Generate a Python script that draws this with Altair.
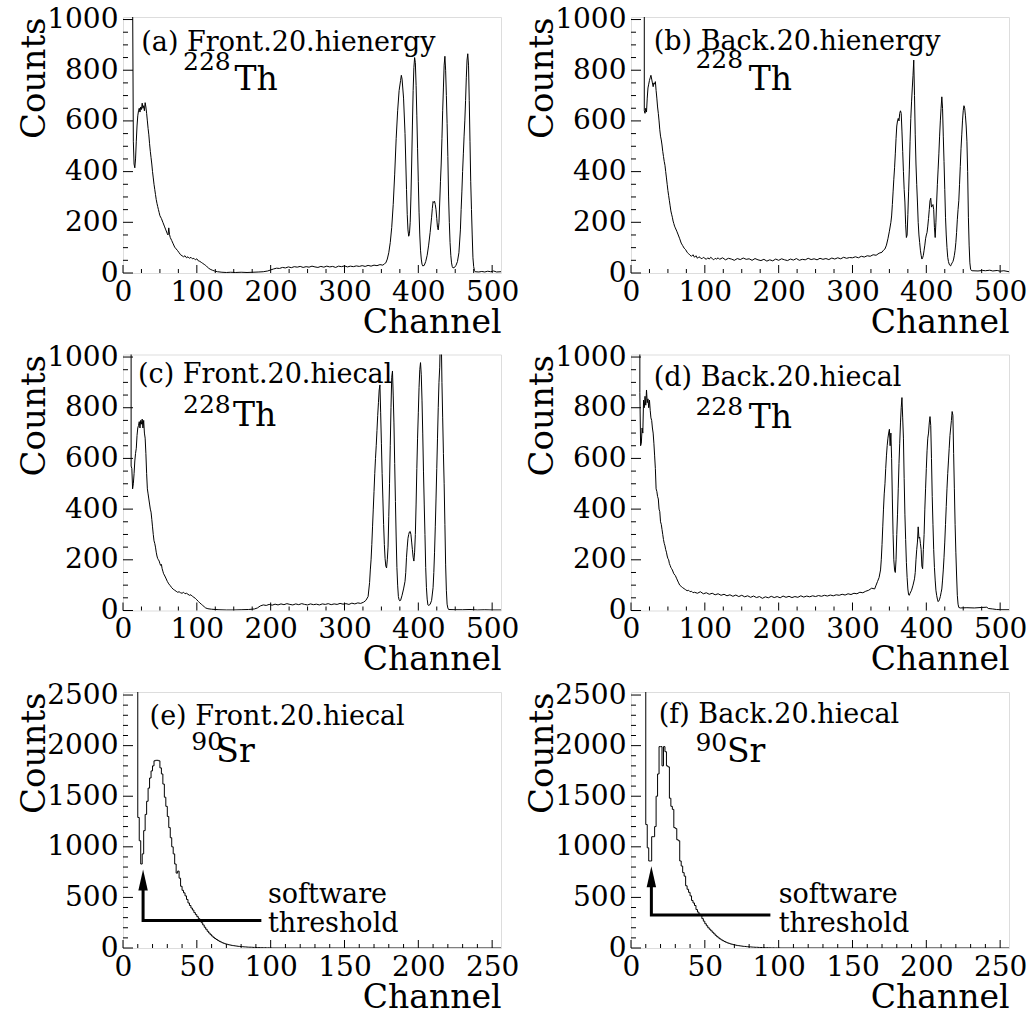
import altair as alt
import pandas as pd

FONT = "DejaVu Serif"
W, H = 378, 256

# ---------------- data (channel, counts) ----------------
a_pts = [(0,1500),(12,1500),(12,1100),(13,1100),(14,520),(15,430),(16,415),(17,450),(18,520),(19,580),(20,620),(21,640),(22,650),(23,635),(24,655),(25,645),(26,670),(27,650),(28,660),(29,640),(30,672),(31,655),(32,630),(33,600),(34,570),(35,545),(36,510),(37,480),(38,455),(39,430),(40,400),(41,375),(42,350),(43,330),(44,310),(45,290),(46,275),(47,262),(48,250),(49,238),(50,226),(52,215),(54,200),(56,185),(58,170),(60,155),(61,150),(62,178),(63,152),(64,140),(66,128),(68,115),(70,102),(72,95),(74,88),(76,80),(78,72),(80,68),(82,64),(84,68),(86,60),(88,64),(90,58),(92,62),(94,56),(96,58),(98,52),(100,56),(102,48),(104,46),(106,42),(108,38),(110,34),(112,30),(114,24),(116,19),(118,15),(121,11),(124,8),(128,5),(134,3),(140,2),(146,3),(152,2),(160,3),(168,2),(176,3),(184,4),(190,5),(196,8),(200,12),(204,16),(208,19),(212,18),(216,22),(220,20),(224,24),(228,21),(232,25),(236,23),(240,26),(244,22),(248,25),(252,23),(256,27),(260,24),(264,22),(268,26),(272,23),(276,27),(280,24),(284,26),(288,22),(292,27),(296,25),(300,28),(304,24),(308,27),(312,25),(316,28),(320,26),(324,29),(328,26),(332,30),(336,27),(340,31),(344,29),(348,33),(352,31),(354,36),
         (356,40),(358,55),(360,80),(362,120),(364,180),(366,270),(368,390),(370,530),(372,640),(374,720),(376,760),(377,780),(378,765),(380,690),(382,550),(384,330),(385,230),(386,170),(387,145),(388,155),(389,200),(390,300),(391,430),(392,580),(393,720),(394,810),(395,850),(396,830),(397,740),(398,620),(399,490),(400,360),(401,240),(402,150),(403,90),(404,55),(405,35),(406,28),(408,30),(410,45),(412,70),(414,110),(416,160),(418,220),(419,255),(420,282),(421,278),(422,283),(423,270),(424,250),(425,215),(426,180),(427,170),(428,200),(429,280),(430,360),(431,430),(432,530),(433,640),(434,730),(435,820),(436,855),(437,800),(438,700),(439,590),(440,460),(441,300),(442,200),(443,120),(444,70),(445,40),(446,25),(447,20),(449,22),(451,30),(453,45),(455,80),(457,170),(458,250),(459,320),(460,400),(461,470),(462,540),(463,600),(464,680),(465,770),(466,840),(467,865),(468,820),(469,680),(470,520),(471,360),(472,250),(473,150),(474,60),(475,25),(476,10),(477,5),(482,4),(486,6),(490,4),(494,7),(498,5),(502,8),(506,4),(512,5)]

b_pts = [(0,1500),(17,1500),(17,1100),(18,1100),(18,640),(19,630),(20,650),(21,635),(22,690),(23,730),(24,745),(25,760),(26,770),(27,780),(28,765),(29,750),(30,735),(31,750),(32,745),(33,755),(34,720),(35,690),(36,655),(37,630),(38,600),(39,565),(40,540),(41,525),(42,505),(43,480),(44,460),(45,440),(46,425),(47,400),(48,375),(49,350),(50,325),(51,305),(52,285),(53,265),(54,245),(55,232),(56,220),(57,205),(58,195),(59,185),(60,178),(62,165),(64,150),(66,135),(68,118),(70,108),(72,98),(74,92),(76,82),(78,76),(80,70),(82,66),(84,72),(86,62),(88,68),(90,58),(92,64),(94,60),(96,56),(98,62),(100,58),(102,54),(104,60),(106,55),(108,62),(110,57),(112,52),(114,58),(116,55),(118,60),(120,54),(124,60),(128,52),(132,58),(136,55),(140,50),(144,57),(148,53),(152,59),(156,54),(160,56),(164,50),(168,57),(172,52),(176,49),(180,54),(184,47),(188,52),(192,48),(196,55),(200,50),(204,56),(208,52),(212,49),(216,55),(220,51),(224,57),(228,50),(232,54),(236,52),(240,58),(244,53),(248,56),(252,52),(256,58),(260,54),(264,57),(268,53),(272,59),(276,55),(280,60),(284,56),(288,62),(292,58),(296,61),(300,60),(304,64),(308,60),(312,66),(316,63),(320,68),(324,66),(328,72),(332,70),(336,78),(340,82),(342,90),
         (344,95),(346,110),(348,135),(350,165),(352,200),(353,225),(354,270),(355,320),(356,370),(357,415),(358,470),(359,530),(360,580),(361,600),(362,610),(363,600),(364,630),(365,640),(366,630),(367,560),(368,480),(369,400),(370,330),(371,280),(372,190),(373,140),(374,150),(375,230),(376,320),(377,410),(378,520),(379,610),(380,675),(381,730),(382,780),(383,840),(384,700),(385,545),(386,430),(387,350),(388,280),(389,200),(390,150),(391,120),(392,90),(393,70),(394,55),(395,60),(396,70),(397,90),(398,110),(399,135),(400,150),(401,160),(402,185),(403,215),(404,250),(405,285),(406,295),(407,260),(408,265),(409,270),(410,250),(411,180),(412,140),(413,200),(414,280),(415,350),(416,410),(417,470),(418,540),(419,600),(420,650),(421,695),(422,650),(423,540),(424,440),(425,330),(426,220),(427,150),(428,100),(429,62),(430,45),(431,35),(432,30),(433,28),(434,35),(435,40),(436,45),(437,55),(438,70),(439,90),(440,120),(441,160),(442,210),(443,250),(444,285),(445,350),(446,420),(447,490),(448,545),(449,600),(450,640),(451,660),(452,650),(453,620),(454,580),(455,520),(456,400),(457,220),(458,110),(459,40),(460,15),(461,10),(462,9),(470,8),(476,10),(480,9),(486,11),(490,8),(496,10),(500,7),(505,9),(512,5)]

c_pts = [(0,1500),(11,1500),(11,570),(12,560),(13,480),(14,500),(15,540),(16,590),(17,620),(18,640),(19,690),(20,720),(21,730),(22,745),(23,720),(24,750),(25,735),(26,755),(27,720),(28,750),(29,700),(30,680),(31,620),(32,540),(33,480),(34,460),(35,440),(36,420),(37,400),(38,388),(39,360),(40,330),(41,300),(42,275),(43,265),(44,250),(45,230),(46,215),(47,205),(48,200),(49,195),(50,185),(51,178),(52,182),(53,165),(54,155),(55,145),(56,140),(58,128),(60,115),(62,105),(64,98),(66,90),(68,84),(70,80),(72,76),(74,72),(76,74),(78,70),(80,68),(82,72),(84,66),(86,68),(88,64),(90,60),(92,62),(94,56),(96,52),(98,48),(100,42),(102,36),(104,30),(106,25),(108,20),(110,15),(112,10),(115,7),(120,5),(130,3),(140,2),(150,2),(160,3),(170,4),(178,6),(182,10),(186,18),(190,22),(194,20),(198,24),(202,21),(206,25),(210,22),(214,26),(218,23),(222,27),(226,24),(230,22),(234,26),(238,23),(242,27),(246,24),(250,22),(254,26),(258,23),(262,25),(266,22),(270,26),(274,24),(278,27),(282,23),(286,26),(290,24),(294,28),(298,25),(302,27),(306,24),(310,29),(314,26),(318,30),(322,28),(326,33),(329,40),(332,55),
         (334,110),(335,160),(336,200),(337,260),(338,330),(339,400),(340,470),(341,540),(342,600),(343,650),(344,710),(345,770),(346,820),(347,870),(348,890),(349,780),(350,660),(351,540),(352,440),(353,340),(354,260),(355,205),(356,175),(357,168),(358,200),(359,250),(360,370),(361,500),(362,650),(363,800),(364,920),(365,945),(366,850),(367,740),(368,580),(369,430),(370,290),(371,170),(372,100),(373,55),(374,42),(375,38),(376,40),(378,60),(380,85),(382,115),(383,150),(384,210),(385,250),(386,285),(387,300),(388,310),(389,312),(390,300),(391,270),(392,240),(393,210),(394,195),(395,230),(396,300),(397,420),(398,560),(399,680),(400,780),(401,880),(402,950),(403,978),(404,930),(405,830),(406,700),(407,550),(408,420),(409,300),(410,170),(411,90),(412,45),(413,22),(414,20),(416,24),(418,40),(420,90),(421,150),(422,230),(423,330),(424,440),(425,560),(426,680),(427,800),(428,900),(429,960),(430,1100),(431,1100),(432,900),(433,760),(434,620),(435,500),(436,340),(437,180),(438,80),(439,25),(440,10),(441,4),(450,3),(460,3),(470,4),(480,2),(490,3),(500,2),(512,2)]

d_pts = [(0,1500),(12,1500),(12,860),(13,650),(14,660),(15,720),(16,700),(17,830),(18,800),(19,845),(20,810),(21,870),(22,820),(23,835),(24,800),(25,830),(26,790),(27,760),(28,750),(29,720),(30,700),(31,660),(32,610),(33,560),(34,480),(35,470),(36,450),(37,440),(38,400),(39,390),(40,350),(41,340),(42,320),(43,300),(44,280),(45,265),(46,255),(47,240),(48,230),(49,215),(50,205),(51,200),(52,185),(53,178),(54,170),(55,165),(56,160),(58,145),(60,138),(62,125),(64,112),(66,100),(68,95),(70,90),(72,86),(74,82),(76,78),(78,80),(80,74),(82,76),(84,70),(86,72),(90,68),(94,74),(98,66),(102,70),(106,64),(110,68),(114,62),(118,66),(122,60),(126,64),(130,58),(134,62),(138,56),(142,61),(146,55),(150,60),(154,54),(158,58),(162,52),(166,57),(170,51),(174,55),(178,48),(182,54),(186,50),(190,56),(194,51),(198,55),(202,50),(206,57),(210,52),(214,56),(218,51),(222,55),(226,52),(230,58),(234,53),(238,57),(242,54),(246,58),(250,55),(254,59),(258,56),(262,60),(266,57),(270,61),(274,58),(278,62),(282,60),(286,64),(290,61),(294,66),(298,63),(302,68),(306,66),(310,72),(314,70),(318,76),(322,80),(326,88),(330,85),
         (332,100),(334,115),(336,130),(338,160),(339,200),(340,260),(341,330),(342,400),(343,460),(344,500),(345,560),(346,610),(347,650),(348,680),(349,700),(350,715),(351,650),(352,700),(353,600),(354,440),(355,300),(356,200),(357,160),(358,150),(359,200),(360,300),(361,380),(362,480),(363,580),(364,660),(365,740),(366,800),(367,840),(368,760),(369,680),(370,520),(371,380),(372,280),(373,190),(374,130),(375,85),(376,62),(377,60),(378,68),(380,80),(382,100),(384,125),(385,150),(386,200),(387,240),(388,270),(389,330),(390,285),(391,290),(392,265),(393,240),(394,175),(395,165),(396,240),(397,300),(398,400),(399,480),(400,560),(401,630),(402,680),(403,700),(404,740),(405,765),(406,730),(407,600),(408,450),(409,340),(410,240),(411,170),(412,120),(413,80),(414,60),(415,45),(416,35),(417,38),(418,45),(419,55),(420,70),(421,85),(422,120),(423,160),(424,210),(425,270),(426,340),(427,410),(428,480),(429,540),(430,590),(431,640),(432,690),(433,720),(434,750),(435,785),(436,770),(437,620),(438,480),(439,340),(440,230),(441,140),(442,60),(443,25),(444,12),(446,10),(455,11),(465,10),(475,12),(482,13),(484,8),(490,6),(495,4),(500,3),(512,3)]

# 90Sr spectra: one count per channel starting at channel 0 (bins 0-9 are off scale)
e_counts = [5000]*10 + [1290,1060,830,930,1160,1320,1450,1580,1680,1750,1800,1850,1855,1855,1850,1780,1720,1620,1490,1400,1300,1190,1090,1000,930,830,740,760,690,610,570,545,515,480,445,420,395,375,350,330,310,290,272,250,228,205,185,165,148,132,118,105,94,84,75,66,59,52,46,41,37,33,30,27,24,22,20,18,16,15,14,12,11,10,9,8,8,7,6,6,5,5,4,4,3,3,3,2,2,2,1,0]
f_counts = [5000]*10 + [1220,990,860,860,1100,1100,1200,1500,1720,1990,1990,1800,1990,1940,1800,1790,1480,1400,1370,1190,1180,1070,1060,860,810,745,710,615,580,550,515,470,445,420,380,355,335,320,290,265,240,220,200,185,170,155,140,125,112,100,90,80,72,64,57,51,46,41,37,33,30,27,24,22,20,18,16,15,13,12,11,10,9,8,7,7,6,5,5,4,4,3,3,3,2,2,2,1,1,1,1,0]

panel_labels = ["(a) Front.20.hienergy", "(b) Back.20.hienergy", "(c) Front.20.hiecal",
                "(d) Back.20.hiecal", "(e) Front.20.hiecal", "(f) Back.20.hiecal"]
mass_numbers = ["228", "228", "228", "228", "90", "90"]
element_symbols = ["Th", "Th", "Th", "Th", "Sr", "Sr"]
threshold_text = ["software", "threshold"]

# arrow annotation (channel, counts) for e and f: [x_vertical, x_end, y_horizontal, head_center]
arrow_e = [13.6, 93.7, 271, 672]
arrow_f = [13.8, 94.4, 326, 705]

x_major_th = [0, 100, 200, 300, 400, 500]
x_minor_th = [v for v in range(25, 512, 25) if v % 100 != 0]
y_major_th = [0, 200, 400, 600, 800, 1000]
y_minor_th = [v for v in range(50, 1010, 50) if v % 200 != 0]
x_major_sr = [0, 50, 100, 150, 200, 250]
x_minor_sr = [v for v in range(10, 256, 10) if v % 50 != 0]
y_major_sr = [0, 500, 1000, 1500, 2000, 2500]
y_minor_sr = [v for v in range(100, 2530, 100) if v % 500 != 0]

LABEL_SIZE = 28


def make_panel(df, step, xmax, ymax, xmaj, xmin_, ymaj, ymin_, idx, pos, arrow=None, anchor=False):
    xs = alt.Scale(domain=[0, xmax], nice=False, zero=False)
    ys = alt.Scale(domain=[0, ymax], nice=False, zero=False)
    ax_x = alt.Axis(values=xmaj, title="Channel", grid=False, ticks=False, tickSize=0, domain=False,
                    labelFont=FONT, labelFontSize=LABEL_SIZE, labelColor="black", labelPadding=27,
                    labelBaseline="alphabetic", labelFlush=False, labelOverlap=False, labelAngle=0,
                    format="d", titleFont=FONT, titleFontSize=33, titleFontWeight="normal",
                    titleColor="black", titleX=W, titleY=59, titleAlign="right",
                    titleAnchor="end", titleBaseline="alphabetic")
    ax_y = alt.Axis(values=ymaj, title="Counts", grid=False, ticks=False, tickSize=0, domain=False,
                    labelFont=FONT, labelFontSize=LABEL_SIZE, labelColor="black", labelPadding=5,
                    labelBaseline="middle", labelAlign="right", labelFlush=False, labelOverlap=False,
                    format="d", titleFont=FONT, titleFontSize=34, titleFontWeight="normal",
                    titleColor="black", titleX=-79, titleY=0, titleAngle=270, titleAlign="right",
                    titleBaseline="alphabetic")
    X = lambda: alt.X("x:Q", scale=xs, axis=ax_x)
    Y = lambda: alt.Y("y:Q", scale=ys, axis=ax_y)

    layers = []
    layers.append(alt.Chart(df).mark_line(interpolate="step-after" if step else "linear",
                                          clip=True, color="black", strokeWidth=1)
                  .encode(x=X(), y=Y(), order="i:Q"))
    # inward ticks
    layers.append(alt.Chart(pd.DataFrame({"y": ymaj})).mark_rule(color="black", strokeWidth=1)
                  .encode(y=Y(), x=alt.value(0), x2=alt.value(10)))
    layers.append(alt.Chart(pd.DataFrame({"y": ymin_})).mark_rule(color="black", strokeWidth=1)
                  .encode(y=Y(), x=alt.value(0), x2=alt.value(5)))
    layers.append(alt.Chart(pd.DataFrame({"x": xmaj})).mark_rule(color="black", strokeWidth=1)
                  .encode(x=X(), y=alt.value(H), y2=alt.value(H - 8)))
    layers.append(alt.Chart(pd.DataFrame({"x": xmin_})).mark_rule(color="black", strokeWidth=1)
                  .encode(x=X(), y=alt.value(H), y2=alt.value(H - 4)))

    def txt(s, x, y, size):
        return (alt.Chart(alt.Data(values=[{"t": s}]))
                .mark_text(align="left", baseline="alphabetic", font=FONT, fontSize=size, color="black")
                .encode(x=alt.value(x), y=alt.value(y), text="t:N"))

    (lx, ly), (sx, sy), (tx, ty) = pos
    layers.append(txt(panel_labels[idx], lx, ly, 27))
    layers.append(txt(mass_numbers[idx], sx, sy, 25))
    layers.append(txt(element_symbols[idx], tx, ty, 33))

    if arrow is not None:
        (xv, xe, yh, yc), (wx, wy1, wy2) = arrow
        path = pd.DataFrame({"x": [xe, xv, xv], "y": [yh, yh, yc], "i": [0, 1, 2]})
        layers.append(alt.Chart(path).mark_line(color="black", strokeWidth=3, strokeJoin="miter")
                      .encode(x=X(), y=Y(), order="i:Q"))
        layers.append(alt.Chart(pd.DataFrame({"x": [xv], "y": [yc]}))
                      .mark_point(shape="M 0 -1 L 0.45 1 L -0.45 1 Z", filled=True, size=441,
                                  color="black", opacity=1, strokeWidth=0)
                      .encode(x=X(), y=Y()))
        layers.append(txt(threshold_text[0], wx, wy1, 27))
        layers.append(txt(threshold_text[1], wx, wy2, 27))

    if anchor:
        layers.append(alt.Chart(alt.Data(values=[{}])).mark_rule(strokeOpacity=0, strokeWidth=0.1)
                      .encode(x=alt.value(-121.7), x2=alt.value(-121.7),
                              y=alt.value(-15.7), y2=alt.value(-15.5)))
    return alt.layer(*layers).properties(width=W, height=H)


def pts_df(pts):
    return pd.DataFrame({"x": [p[0] for p in pts], "y": [p[1] for p in pts], "i": list(range(len(pts)))})


def counts_df(counts, xmax):
    xs = list(range(len(counts))) + [xmax]
    ys = list(counts) + [0]
    return pd.DataFrame({"x": xs, "y": ys, "i": list(range(len(xs)))})


pa = make_panel(pts_df(a_pts), False, 512, 1010, x_major_th, x_minor_th, y_major_th, y_minor_th, 0,
                [(18.3, 34.3), (60, 52.6), (111.6, 72.6)], anchor=True)
pb = make_panel(pts_df(b_pts), False, 512, 1010, x_major_th, x_minor_th, y_major_th, y_minor_th, 1,
                [(22.7, 32.6), (64.4, 51), (117.7, 72.6)])
pc = make_panel(pts_df(c_pts), False, 512, 1010, x_major_th, x_minor_th, y_major_th, y_minor_th, 2,
                [(15, 28.4), (60, 58.4), (110, 71.7)])
pd_ = make_panel(pts_df(d_pts), False, 512, 1010, x_major_th, x_minor_th, y_major_th, y_minor_th, 3,
                 [(22.7, 31.7), (64.4, 60), (117.7, 73.4)])
pe = make_panel(counts_df(e_counts, 256), True, 256, 2530, x_major_sr, x_minor_sr, y_major_sr, y_minor_sr, 4,
                [(26.6, 32.6), (68.3, 57.6), (93.3, 70)],
                arrow=(arrow_e, (145, 211, 239.5)))
pf = make_panel(counts_df(f_counts, 256), True, 256, 2530, x_major_sr, x_minor_sr, y_major_sr, y_minor_sr, 5,
                [(27.7, 31), (64.4, 59.3), (96, 70)],
                arrow=(arrow_f, (147.7, 211, 239.5)))

chart = (alt.concat(pa, pb, pc, pd_, pe, pf, columns=2,
                    spacing={"row": 81.5, "column": 130}, bounds="flush")
         .properties(padding=0, background="white")
         .configure_view(stroke="black", strokeWidth=1)
         .configure(font=FONT))

chart.save("out.html", embed_options={"renderer": "svg", "actions": False})
